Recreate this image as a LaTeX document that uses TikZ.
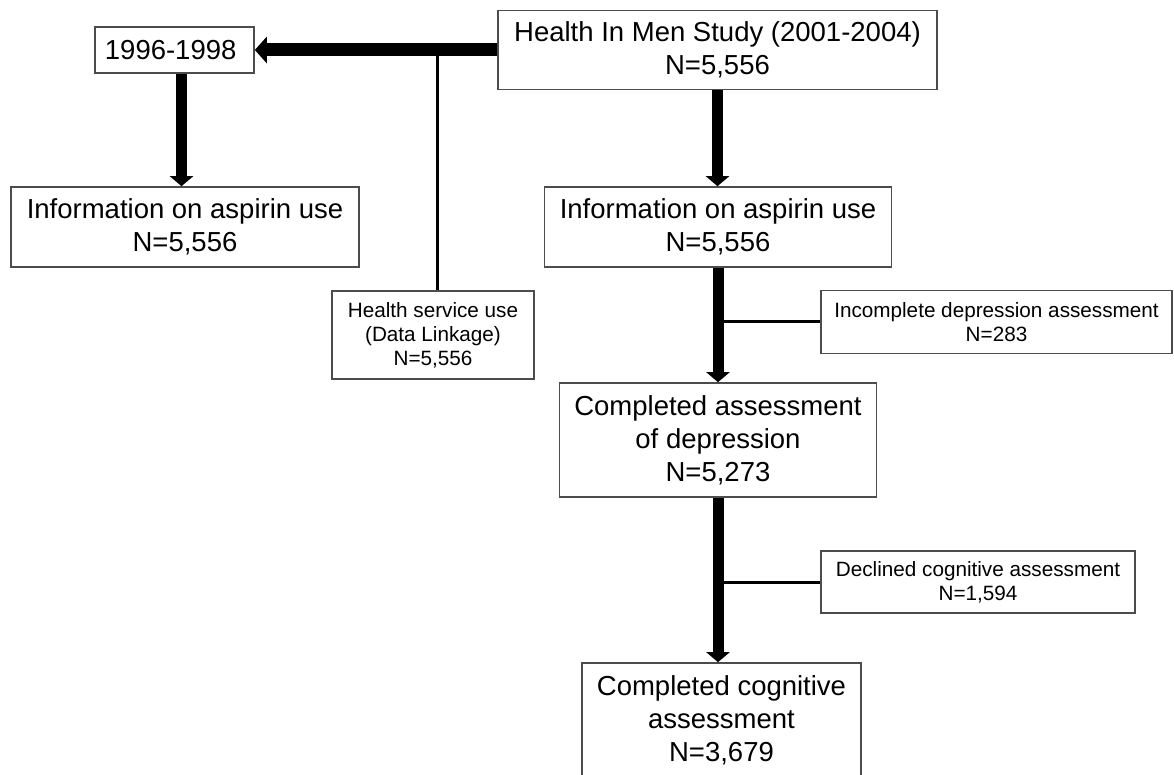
\documentclass[tikz,border=0pt]{standalone}
\usepackage{fontspec}
\setmainfont{Liberation Sans}
\usetikzlibrary{arrows.meta}

\begin{document}
\begin{tikzpicture}[x=0.5pt,y=-0.5pt]
\useasboundingbox (0,0) rectangle (1174,775);
% Flow chart styles
\tikzstyle{flow_box} = [rectangle, draw=black!70, line width=0.8pt, inner sep=0pt, align=center, font=\fontsize{13.75}{16.5}\selectfont]
\tikzstyle{side_box} = [flow_box, font=\fontsize{10.35}{12}\selectfont]
\tikzstyle{thick_arrow} = [-{Triangle[width=11.5pt,length=5pt]}, line width=5.5pt]
\tikzstyle{branch_line} = [line width=1.5pt]

% Main study column
\node[flow_box, minimum width=219.5pt, minimum height=39.5pt] (hims) at (717.5,50) {
    Health In Men Study (2001-2004)\\
    N=5,556
};

\node[flow_box, minimum width=173.5pt, minimum height=40pt] (aspirinR) at (718,227) {
    Information on aspirin use\\
    N=5,556
};

\node[flow_box, minimum width=158.5pt, minimum height=57pt] (depression) at (718,440) {
    Completed assessment\\
    of depression\\
    N=5,273
};

\node[flow_box, minimum width=139.5pt, minimum height=57pt] (cognitive) at (721.5,720) {
    Completed cognitive\\
    assessment\\
    N=3,679
};

% Earlier survey column
\node[flow_box, minimum width=79.5pt, minimum height=23pt] (period) at (174.5,50) {
    1996-1998
};

\node[flow_box, minimum width=174pt, minimum height=40pt] (aspirinL) at (185,227) {
    Information on aspirin use\\
    N=5,556
};

% Side boxes
\node[side_box, minimum width=101pt, minimum height=44pt] (service) at (433,335) {
    Health service use\\
    (Data Linkage)\\
    N=5,556
};

\node[side_box, minimum width=175.5pt, minimum height=31.5pt] (incomplete) at (996.5,322) {
    Incomplete depression assessment\\
    N=283
};

\node[side_box, minimum width=157pt, minimum height=31pt] (declined) at (978,582) {
    Declined cognitive assessment\\
    N=1,594
};

% Arrows
\draw[thick_arrow, line width=6.5pt, -{Triangle[width=13pt,length=6pt]}] (hims.west) -- (period.east);

\coordinate (leftdrop) at (181.5,0);
\draw[thick_arrow] (period.south -| leftdrop) -- (aspirinL.north -| leftdrop);

\foreach \upper/\lower in {hims/aspirinR, aspirinR/depression, depression/cognitive} {
    \draw[thick_arrow] (\upper.south) -- (\upper.south |- \lower.north);
}

% Branch lines
\coordinate (split) at (437,50);
\draw[branch_line] (split) -- (split |- service.north);

\foreach \exclusion/\upper in {incomplete/aspirinR, declined/depression} {
    \draw[branch_line] (\exclusion.west -| \upper.south) -- (\exclusion.west);
}
\end{tikzpicture}
\end{document}
